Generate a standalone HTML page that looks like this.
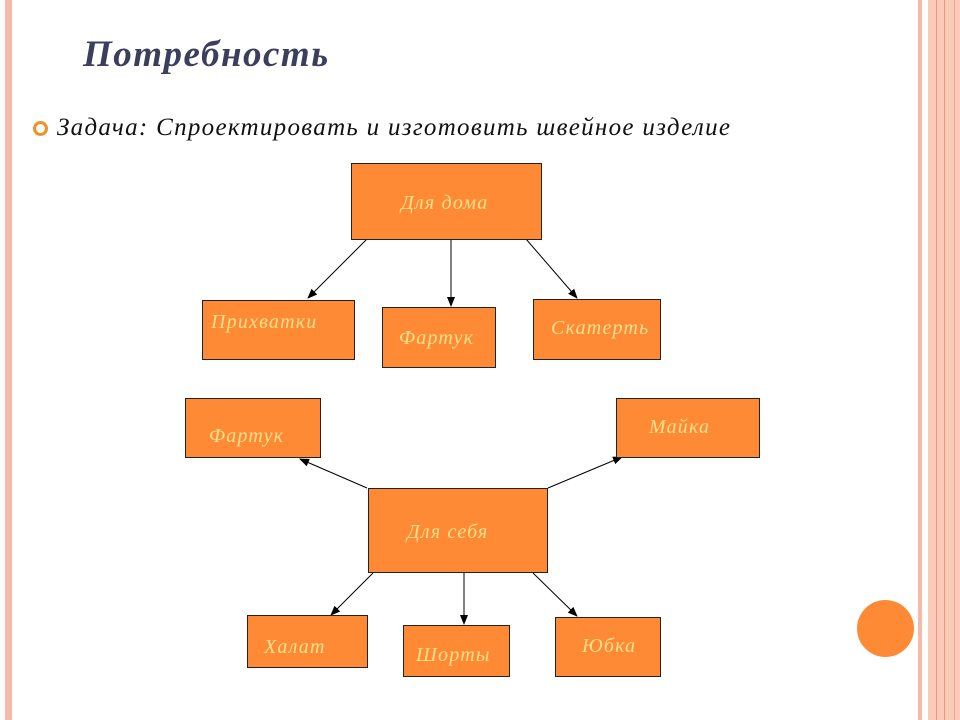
<!DOCTYPE html>
<html><head><meta charset="utf-8"><style>
body{margin:0;width:960px;height:720px;background:#fff;position:relative;overflow:hidden;font-family:"Liberation Serif","DejaVu Serif",serif;}
.s{position:absolute;top:0;height:720px;}
.b{position:absolute;background:#FF8A35;border:1px solid #222;box-sizing:border-box;color:#FFE08A;font-style:italic;font-size:20px;letter-spacing:1.2px;}
.b span{position:absolute;white-space:nowrap;}
</style></head><body>
<div class="s" style="left:5px;width:7px;background:#F9B9A8"></div>
<div class="s" style="left:918px;width:4px;background:#F9B9A8"></div>
<div class="s" style="left:928px;width:32px;background:#FBCBB8"></div>
<div class="s" style="left:936px;width:1px;background:#E09A88"></div>
<div class="s" style="left:944px;width:1px;background:#E09A88"></div>
<div class="s" style="left:954px;width:1px;background:#E0A898"></div>
<div style="position:absolute;left:83px;top:33px;font-size:37px;letter-spacing:1.5px;font-weight:bold;font-style:italic;color:#3C3F5C">Потребность</div>
<div style="position:absolute;left:33px;top:121px;width:9px;height:9px;border:3px solid #F0902C;border-radius:50%"></div>
<div style="position:absolute;left:57px;top:114px;font-size:25px;letter-spacing:1.3px;font-style:italic;color:#111">Задача: Спроектировать и изготовить швейное изделие</div>
<div style="position:absolute;left:857px;top:600px;width:57px;height:57px;border-radius:50%;background:#FF8A35"></div>
<svg style="position:absolute;left:0;top:0" width="960" height="720">
<defs><marker id="a" markerWidth="10" markerHeight="10" refX="9" refY="5" orient="auto" markerUnits="userSpaceOnUse"><path d="M0,1 L10,5 L0,9z" fill="#000"/></marker></defs>
<g stroke="#000" stroke-width="1" marker-end="url(#a)">
<line x1="367" y1="239" x2="308" y2="298"/>
<line x1="451" y1="239" x2="451" y2="306"/>
<line x1="526" y1="239" x2="577" y2="298"/>
<line x1="367" y1="488" x2="300" y2="459"/>
<line x1="548" y1="488" x2="622" y2="457"/>
<line x1="373" y1="573" x2="331" y2="615"/>
<line x1="464" y1="573" x2="464" y2="624"/>
<line x1="533" y1="573" x2="577" y2="616"/>
</g></svg>
<div class="b" style="left:351px;top:163px;width:191px;height:77px"><span style="left:49px;top:28px">Для дома</span></div>
<div class="b" style="left:202px;top:300px;width:153px;height:60px"><span style="left:8px;top:10px">Прихватки</span></div>
<div class="b" style="left:382px;top:307px;width:114px;height:61px"><span style="left:16px;top:19px">Фартук</span></div>
<div class="b" style="left:533px;top:299px;width:128px;height:61px"><span style="left:17px;top:17px">Скатерть</span></div>
<div class="b" style="left:185px;top:398px;width:136px;height:60px"><span style="left:23px;top:26px">Фартук</span></div>
<div class="b" style="left:616px;top:398px;width:144px;height:60px"><span style="left:32px;top:17px">Майка</span></div>
<div class="b" style="left:368px;top:488px;width:180px;height:85px"><span style="left:38px;top:32px">Для себя</span></div>
<div class="b" style="left:247px;top:615px;width:121px;height:53px"><span style="left:16px;top:20px">Халат</span></div>
<div class="b" style="left:403px;top:625px;width:107px;height:52px"><span style="left:12px;top:18px">Шорты</span></div>
<div class="b" style="left:555px;top:617px;width:106px;height:60px"><span style="left:26px;top:17px">Юбка</span></div>
</body></html>
